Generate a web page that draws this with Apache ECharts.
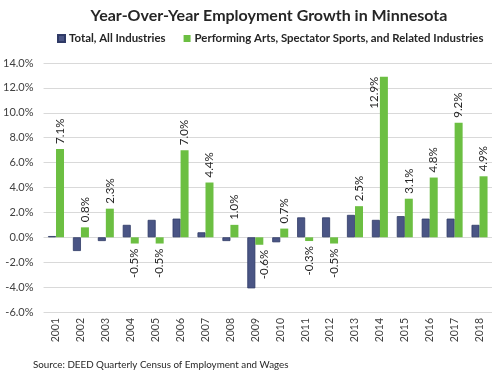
<!DOCTYPE html>
<html><head><meta charset="utf-8">
<script src="https://cdn.jsdelivr.net/npm/echarts@6/dist/echarts.min.js"></script>
<style>html,body{margin:0;padding:0;background:#fff}#c{width:492px;height:370px}</style>
</head><body><div id="c"></div>
<script>
const years = ['2001','2002','2003','2004','2005','2006','2007','2008','2009','2010','2011','2012','2013','2014','2015','2016','2017','2018'];
const totalAll = [0.1,-1.1,-0.3,1.0,1.4,1.5,0.4,-0.3,-4.1,-0.4,1.6,1.6,1.8,1.4,1.7,1.5,1.5,1.0];
const perfArts = [7.1,0.8,2.3,-0.5,-0.5,7.0,4.4,1.0,-0.6,0.7,-0.3,-0.5,2.5,12.9,3.1,4.8,9.2,4.9];
const yTicks = {min:-6, max:14, interval:2};

const FONT = 'Lato';
const chart = echarts.init(document.getElementById('c'));

function perfLabel(v, i){
  const base = {
    show:true, rotate:90, distance:5, verticalAlign:'middle',
    formatter: p=>p.value.toFixed(1)+'%',
    fontSize:11.5, color:'#262626', fontFamily:FONT
  };
  if (v === Math.max(...perfArts)) {
    return Object.assign(base, {position:[-6,0], align:'right'});
  }
  if (v >= 0) return Object.assign(base, {position:'top', align:'left'});
  const lab = Object.assign(base, {position:'bottom', align:'right'});
  if (totalAll[i] < -2) lab.offset = [0, 5];
  return lab;
}

chart.setOption({
  animation:false,
  textStyle:{fontFamily:FONT},
  title:[{
    text:'Year-Over-Year Employment Growth in Minnesota',
    left:264, textAlign:'center', top:3,
    textStyle:{fontFamily:FONT,fontSize:16,fontWeight:'bold',color:'#262626'}
  },{
    text:'Source: DEED Quarterly Census of Employment and Wages',
    left:28, top:355,
    textStyle:{fontFamily:FONT,fontSize:9.8,fontWeight:'normal',color:'#262626'}
  }],
  legend:{
    top:33, left:57, width:435, padding:0, itemWidth:7, itemHeight:7, itemGap:18,
    icon:'rect',
    textStyle:{fontFamily:FONT,fontSize:11.4,fontWeight:'bold',color:'#262626',padding:[0,0,0,-1]},
    data:['Total, All Industries','Performing Arts, Spectator Sports, and Related Industries']
  },
  grid:{left:41,right:0,top:63,bottom:58},
  xAxis:{
    type:'category', data:years,
    axisLine:{show:false}, axisTick:{show:false},
    axisLabel:{rotate:90,fontSize:10.5,color:'#404040',margin:6,fontFamily:FONT}
  },
  yAxis:{
    type:'value', min:yTicks.min, max:yTicks.max, interval:yTicks.interval,
    axisLine:{show:false}, axisTick:{show:false},
    splitLine:{lineStyle:{color:'#d9d9d9',width:1}},
    axisLabel:{formatter:v=>v.toFixed(1)+'%',fontSize:11,color:'#404040',margin:10,fontFamily:FONT}
  },
  series:[{
    name:'Total, All Industries', type:'bar', data:totalAll,
    barWidth:8, barGap:'0%',
    itemStyle:{color:'#4a5585',borderColor:'#2f3a66',borderWidth:0.8}
  },{
    name:'Performing Arts, Spectator Sports, and Related Industries', type:'bar',
    barWidth:8,
    itemStyle:{color:'#6cbf42'},
    data:perfArts.map((v,i)=>({value:v, label:perfLabel(v,i)}))
  }]
});
</script></body></html>
